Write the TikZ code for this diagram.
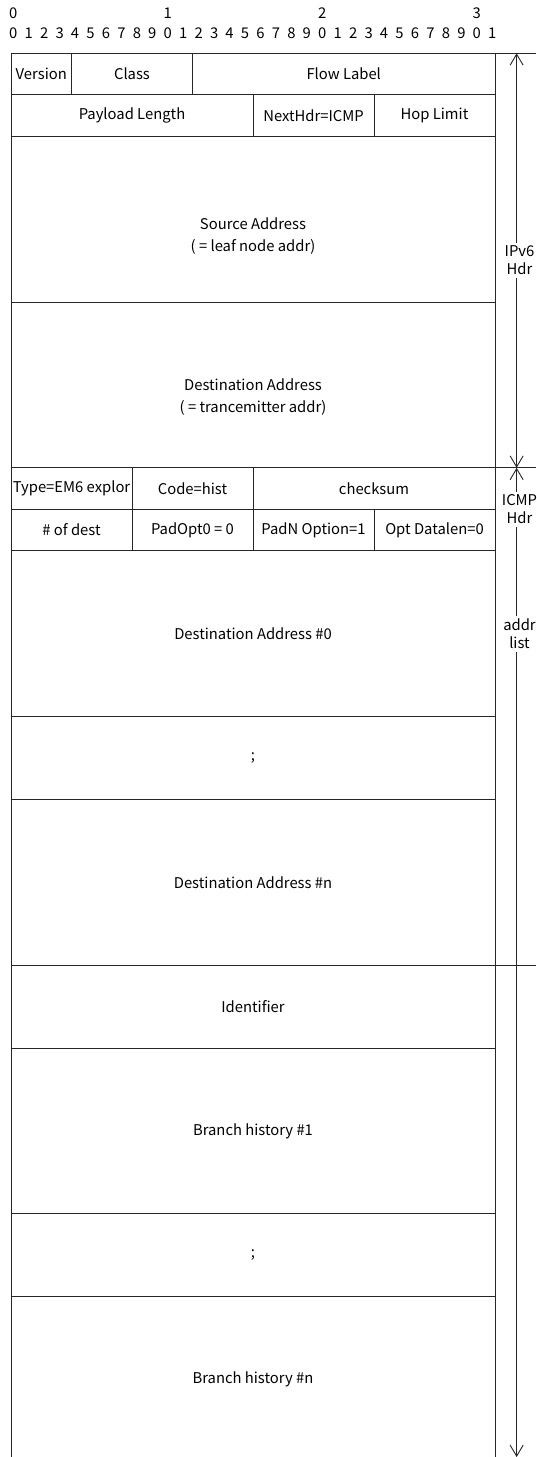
\documentclass[tikz,border=0pt]{standalone}
\usepackage{fontspec}
\setmainfont{Noto Sans CJK JP}
\usetikzlibrary{arrows.meta}
\definecolor{Ink}{HTML}{262626}

\begin{document}
\begin{tikzpicture}[x=15.125pt,y=-41.45pt,
    font=\fontsize{14.8}{19}\selectfont,
    field/.style 2 args={draw=Ink,line width=0.9pt,anchor=north west,inner sep=0.5pt,outer sep=0pt,
      minimum width=#1*15.125pt,minimum height=#2*41.45pt,align=center},
    rule/.style={draw=Ink,line width=0.9pt},
    dimline/.style={rule,{Straight Barb[length=11pt,width=13pt]}-{Straight Barb[length=11pt,width=13pt]}},
    dimlabel/.style={fill=white,align=center,inner sep=3pt,font=\fontsize{14.8}{18}\selectfont},
    twoline/.style={align=center,inner sep=0pt,font=\fontsize{14.8}{22.5}\selectfont},
    bitnum/.style={inner sep=0pt}]
        \useasboundingbox (-0.7273,-1.2859) rectangle (34.711,33.865);
        \clip (-0.7273,-1.2859) rectangle (34.711,33.865);

        % bit ruler
        \foreach \t in {0,1,2,3}
          \node[bitnum] (ten\t) at ({0.152+10.215*\t},-0.96) {\t};
        \foreach \i [evaluate=\i as \d using {int(mod(\i,10))}] in {0,...,31}
          \node[bitnum] (bit\i) at ({0.152+1.0215*\i},-0.475) {\d};

        % IPv6 header
        \node[field={4}{1}] (ver) at (0,0) {Version};
        \node[field={8}{1}] (cls) at (4,0) {Class};
        \node[field={20}{1}] (flow) at (12,0) {Flow Label};
        \node[field={16}{1}] (plen) at (0,1) {Payload Length};
        \node[field={8}{1}] (nhdr) at (16,1) {NextHdr=ICMP};
        \node[field={8}{1}] (hop) at (24,1) {Hop Limit};
        \node[field={32}{4}] (src) at (0,2) {};
        \node[twoline] (srcTxt) at ([yshift=-17pt]src.center) {Source Address\\( = leaf node addr)};
        \node[field={32}{4}] (dst) at (0,6) {};
        \node[twoline] (dstTxt) at ([yshift=-12pt]dst.center) {Destination Address\\( = trancemitter addr)};

        % ICMP header
        \node[field={8}{1}] (type) at (0,10) {Type=EM6 explor};
        \node[field={8}{1}] (code) at (8,10) {Code=hist};
        \node[field={16}{1}] (csum) at (16,10) {checksum};
        \node[field={8}{1}] (ndst) at (0,11) {\# of dest};
        \node[field={8}{1}] (pad0) at (8,11) {PadOpt0 = 0};
        \node[field={8}{1}] (padn) at (16,11) {PadN Option=1};
        \node[field={8}{1}] (olen) at (24,11) {Opt Datalen=0};

        % address list
        \node[field={32}{4}] (da0) at (0,12) {Destination Address \#0};
        \node[field={32}{2}] (dots1) at (0,16) {;};
        \node[field={32}{4}] (dan) at (0,18) {Destination Address \#n};

        % history
        \node[field={32}{2}] (ident) at (0,22) {Identifier};
        \node[field={32}{4}] (bh1) at (0,24) {Branch history \#1};
        \node[field={32}{2}] (dots2) at (0,28) {;};
        \node[field={32}{4}] (bhn) at (0,30) {Branch history \#n};

        % right side spans
        \coordinate (edgeA) at (34.711,0);
        \coordinate (edgeB) at (34.711,10);
        \coordinate (edgeC) at (34.711,22);
        \draw[rule] (flow.north east) -- (edgeA);
        \draw[rule] (csum.north east) -- (edgeB);
        \draw[rule] (ident.north east) -- (edgeC);

        \coordinate (ipTop) at (33.43,0);
        \coordinate (ipBot) at (33.43,10);
        \coordinate (listBot) at (33.43,33.865);
        \draw[dimline] (ipTop) -- (ipBot);
        \draw[dimline] (ipBot) -- (listBot);
        \node[dimlabel] (ipLbl) at (33.62,5) {IPv6\\Hdr};
        \node[dimlabel] (icmpLbl) at (33.62,11) {ICMP\\Hdr};
        \node[dimlabel] (listLbl) at (33.62,14) {addr\\list};
\end{tikzpicture}
\end{document}
